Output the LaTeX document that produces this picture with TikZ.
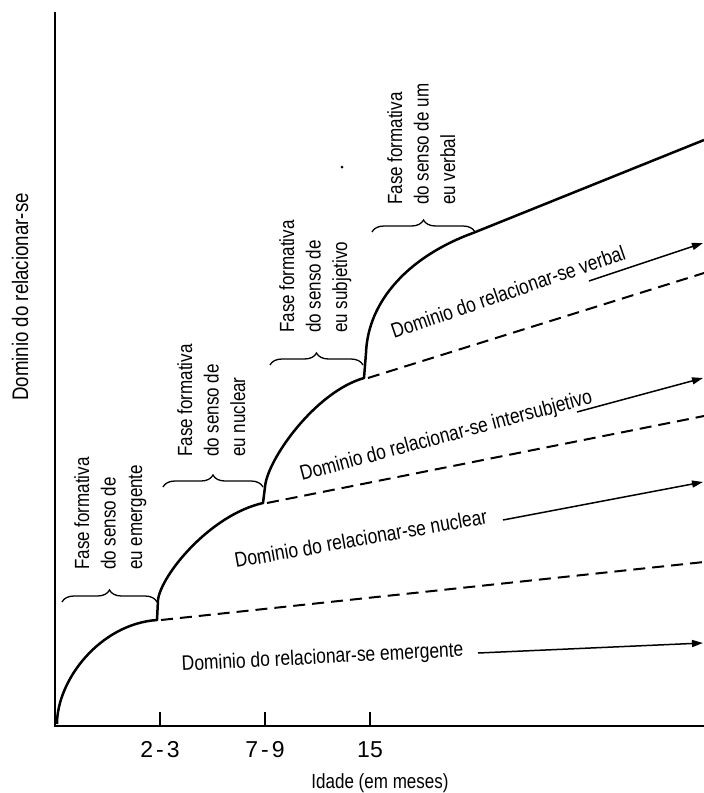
\documentclass[tikz,border=0pt]{standalone}
\usepackage{fontspec}
\setmainfont{Liberation Sans}[FakeStretch=0.83]
\newfontfamily\tickfont{Liberation Sans}
\usetikzlibrary{decorations.pathreplacing,arrows.meta}
\begin{document}
\begin{tikzpicture}[x=1pt,y=-1pt,
  axisline/.style={line width=1.1pt},
  tickline/.style={line width=1.1pt},
  curveline/.style={line width=2.5pt, line join=round},
  dashline/.style={line width=2pt, dash pattern=on 12pt off 7pt},
  arrowline/.style={line width=1.5pt, -{Triangle[length=11pt,width=7pt]}},
  bracebox/.style={line width=1.3pt, decorate, decoration={brace, amplitude=12pt}},
  phaselabel/.style={rotate=90, anchor=north west, inner sep=0pt, align=left, font=\fontsize{20.5}{26.5}\selectfont},
  domainlabel/.style={anchor=base west, inner sep=0pt, font=\fontsize{21}{24}\selectfont},
  ticklabel/.style={anchor=base, inner sep=0pt, font=\tickfont\fontsize{23}{26}\selectfont},
]
\useasboundingbox (0,0) rectangle (704,793);

% axes
\coordinate (ytop) at (55,12);
\coordinate (orig) at (55,726);
\coordinate (xend) at (704,726);
\draw[axisline] (ytop) -- (orig) -- (xend);
\foreach \n/\x in {a/160,b/265,c/370}{
  \coordinate (t\n) at (\x,726);
  \coordinate (u\n) at (\x,712);
  \draw[tickline] (t\n) -- (u\n);
}
\node[ticklabel] (l1) at (160,757) {2\hspace{3pt}-\hspace{3pt}3};
\node[ticklabel] (l2) at (265,757) {7\hspace{3pt}-\hspace{3pt}9};
\node[ticklabel] (l3) at (370,757) {15};
\node[anchor=base, inner sep=0pt, font=\fontsize{20.5}{24}\selectfont] (xlab) at (380,788) {Idade (em meses)};
\node[rotate=90, anchor=base, inner sep=0pt, font=\fontsize{22.5}{26}\selectfont] (ylab) at (28,297) {Dominio do relacionar-se};

% main curve
\coordinate (c0) at (57,724);
\coordinate (c1) at (157,620);
\coordinate (c1b) at (158,600);
\coordinate (c2) at (263,503);
\coordinate (c2b) at (265,487);
\coordinate (c3) at (364,378);
\coordinate (c3b) at (366,353);
\coordinate (c4) at (473,233);
\coordinate (c5) at (704,140);
\draw[curveline] (c0) .. controls (57,680) and (100,624) .. (c1) -- (c1b)
  .. controls (161,575) and (210,515) .. (c2) -- (c2b)
  .. controls (267,460) and (315,392) .. (c3) -- (c3b)
  .. controls (368,300) and (410,256) .. (c4) -- (c5);

% dashed boundaries
\coordinate (d1) at (704,562);
\coordinate (d2) at (704,416);
\coordinate (d3) at (704,273);
\draw[dashline] (c1) ++(4,0) coordinate (e1) -- (d1);
\draw[dashline] (c2) ++(4,0) coordinate (e2) -- (d2);
\draw[dashline] (c3) ++(4,0) coordinate (e3) -- (d3);

% braces
\coordinate (b1l) at (62,602);  \coordinate (b1r) at (157,602);
\coordinate (b2l) at (163,487); \coordinate (b2r) at (263,487);
\coordinate (b3l) at (270,365); \coordinate (b3r) at (363,365);
\coordinate (b4l) at (372,232); \coordinate (b4r) at (475,232);
\draw[bracebox] (b1l) -- (b1r);
\draw[bracebox] (b2l) -- (b2r);
\draw[bracebox] (b3l) -- (b3r);
\draw[bracebox] (b4l) -- (b4r);

% phase labels
\node[phaselabel] (p1) at (74,570) {Fase formativa\\do senso de\\eu emergente};
\node[phaselabel] (p2) at (177,457) {Fase formativa\\do senso de\\eu nuclear};
\node[phaselabel] (p3) at (279,333) {Fase formativa\\do senso de\\eu subjetivo};
\node[phaselabel] (p4) at (387,205) {Fase formativa\\do senso de um\\eu verbal};

% domain labels
\node[domainlabel, rotate=3] (n1) at (182,671) {Dominio do relacionar-se emergente};
\node[domainlabel, rotate=10] (n2) at (236,568) {Dominio do relacionar-se nuclear};
\node[domainlabel, rotate=15] (n3) at (302,481) {Dominio do relacionar-se intersubjetivo};
\node[domainlabel, rotate=19] (n4) at (394,339) {Dominio do relacionar-se verbal};

% arrows
\coordinate (a1s) at (478,653); \coordinate (a1e) at (703,643);
\coordinate (a2s) at (503,520); \coordinate (a2e) at (703,482);
\coordinate (a3s) at (577,412); \coordinate (a3e) at (703,378);
\coordinate (a4s) at (589,281); \coordinate (a4e) at (703,243);
\draw[arrowline] (a1s) -- (a1e);
\draw[arrowline] (a2s) -- (a2e);
\draw[arrowline] (a3s) -- (a3e);
\draw[arrowline] (a4s) -- (a4e);

% speck
\fill (342,167) circle (1.5pt);
\end{tikzpicture}
\end{document}
